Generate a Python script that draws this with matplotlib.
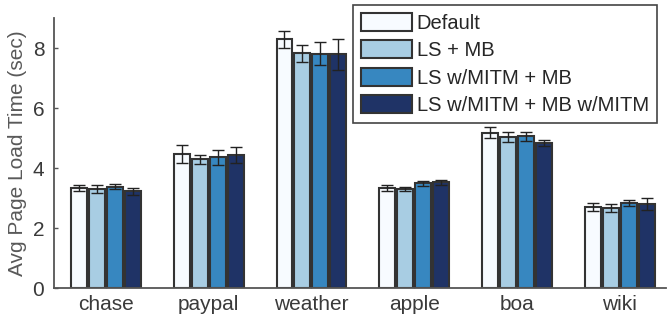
import numpy as np
import matplotlib
matplotlib.use("Agg")
import matplotlib.pyplot as plt

plt.rcParams['font.family'] = ['Liberation Sans', 'DejaVu Sans']

# sites and series
sites = ['chase', 'paypal', 'weather', 'apple', 'boa', 'wiki']
series = ['Default', 'LS + MB', 'LS w/MITM + MB', 'LS w/MITM + MB w/MITM']

default_mean = [3.33, 4.46, 8.29, 3.32, 5.18, 2.70]
lsmb_mean = [3.29, 4.29, 7.82, 3.30, 5.03, 2.67]
lsmitm_mean = [3.38, 4.36, 7.81, 3.49, 5.06, 2.83]
lsmitm_mbmitm_mean = [3.23, 4.44, 7.79, 3.52, 4.84, 2.80]

default_err = [0.11, 0.30, 0.29, 0.10, 0.19, 0.12]
lsmb_err = [0.13, 0.15, 0.29, 0.08, 0.16, 0.12]
lsmitm_err = [0.08, 0.25, 0.38, 0.09, 0.15, 0.09]
lsmitm_mbmitm_err = [0.12, 0.27, 0.52, 0.07, 0.10, 0.20]

colors = ['#f7fbff', '#a8cde3', '#3787c0', '#1f3366']


def plot_graph():
    means = [default_mean, lsmb_mean, lsmitm_mean, lsmitm_mbmitm_mean]
    errs = [default_err, lsmb_err, lsmitm_err, lsmitm_mbmitm_err]

    fig = plt.figure(figsize=(6.67, 3.16), dpi=100)
    ax = fig.add_axes([0.081, 0.0886, 0.9175, 0.8544])

    x = np.arange(len(sites))
    pitch = 0.175
    width = 0.155
    for i in range(4):
        pos = x + (i - 1.5) * pitch
        ax.bar(pos, means[i], width, color=colors[i], edgecolor='#333333',
               linewidth=1.5, label=series[i], zorder=2)
        ax.errorbar(pos, means[i], yerr=errs[i], fmt='none', ecolor='#222222',
                    elinewidth=1.0, capsize=4.2, capthick=1.0, zorder=3)

    ax.set_xlim(-0.505, 5.45)
    ax.set_ylim(0, 9)
    ax.set_yticks([0, 2, 4, 6, 8])
    ax.set_xticks(x)
    ax.set_xticklabels(sites)
    ax.tick_params(axis='both', direction='in', length=3, width=1,
                   color='#555555', labelsize=15, labelcolor='#3a3a3a')
    ax.tick_params(axis='x', pad=5)
    ax.tick_params(axis='y', pad=7)
    ax.set_ylabel('Avg Page Load Time (sec)', fontsize=15, color='#595959',
                  labelpad=4)

    for side in ['top', 'right']:
        ax.spines[side].set_visible(False)
    for side in ['left', 'bottom']:
        ax.spines[side].set_color('#555555')
        ax.spines[side].set_linewidth(1.3)

    leg = ax.legend(loc='upper right', bbox_to_anchor=(0.985, 1.048),
                    borderaxespad=0, fontsize=14.5, fancybox=False,
                    handlelength=2.5, handleheight=1.0, handletextpad=0.25,
                    labelspacing=0.37, borderpad=0.4, framealpha=1)
    leg.get_frame().set_edgecolor('#444444')
    leg.get_frame().set_linewidth(1.2)
    for t in leg.get_texts():
        t.set_color('#262626')

    fig.savefig('out.png', dpi=100)


if __name__ == "__main__":
    plot_graph()
